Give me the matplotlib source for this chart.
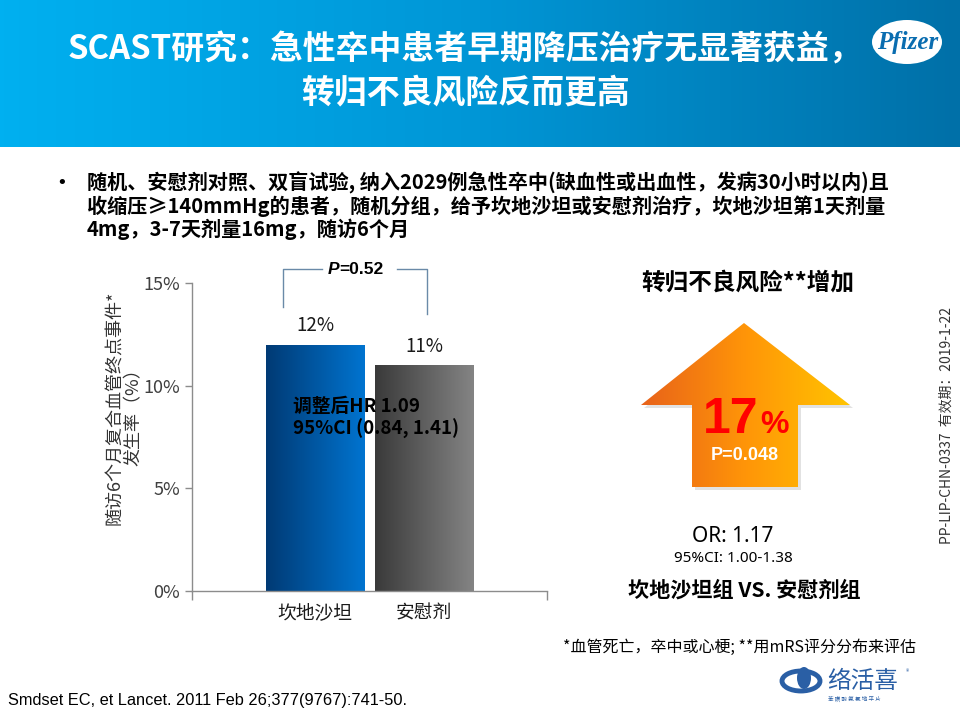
#!/usr/bin/env python3
"""SCAST slide: candesartan vs placebo, 6-month vascular endpoint + poor outcome risk."""

import numpy as np
import matplotlib
matplotlib.use('Agg')
import matplotlib.pyplot as plt
from matplotlib.patches import Polygon, Ellipse
from matplotlib.colors import LinearSegmentedColormap

plt.rcParams['font.family'] = ['Noto Sans CJK SC', 'DejaVu Sans']

# ---- data ----
GROUPS = ['坎地沙坦', '安慰剂']
EVENT_RATE = [12, 11]            # composite vascular endpoint at 6 months, %
Y_TICKS = [0, 5, 10, 15]
P_BARS = '0.52'
HR_LINES = ['调整后HR 1.09', '95%CI (0.84, 1.41)']
RISK_UP = 17                     # % increase of poor functional outcome
P_RISK = '0.048'
OR_VALUE = 1.17
OR_CI = (1.00, 1.38)

TITLE = ['SCAST研究：急性卒中患者早期降压治疗无显著获益，', '转归不良风险反而更高']
BULLET = ['随机、安慰剂对照、双盲试验, 纳入2029例急性卒中(缺血性或出血性，发病30小时以内)且',
          '收缩压≥140mmHg的患者，随机分组，给予坎地沙坦或安慰剂治疗，坎地沙坦第1天剂量',
          '4mg，3-7天剂量16mg，随访6个月']
FOOTNOTE = '*血管死亡，卒中或心梗; **用mRS评分分布来评估'
REFERENCE = 'Smdset EC, et Lancet. 2011 Feb 26;377(9767):741-50.'
CODE = 'PP-LIP-CHN-0337  有效期：2019-1-22'

W, H = 960, 720
fig = plt.figure(figsize=(W / 100, H / 100), dpi=100)

# ---- bar chart ----
ax = fig.add_axes([192 / W, 1 - 591 / H, (547 - 192) / W, 308 / H], zorder=0)
ax.set_facecolor('none')
x = np.arange(len(GROUPS))
bars = ax.bar(x, EVENT_RATE, width=0.9, color='none', zorder=2)
grads = [['#003a74', '#0074d0'], ['#3a3a3a', '#848484']]
grad = np.linspace(0, 1, 256).reshape(1, -1)
for b, cols in zip(bars, grads):
    cm = LinearSegmentedColormap.from_list('g', cols)
    im = ax.imshow(grad, cmap=cm, aspect='auto', zorder=2,
                   extent=[b.get_x(), b.get_x() + b.get_width(), 0, b.get_height()])
    im.set_clip_path(b)

for xi, v in zip(x, EVENT_RATE):
    ax.annotate(f'{v}%', (xi, v), xytext=(0, 13.5), textcoords='offset points',
                ha='center', va='center', fontsize=13.5, color='#1a1a1a')

xl = (-1.13, 2.13)
ax.set_xlim(*xl)
ax.set_ylim(0, 15)
for s in ['top', 'right']:
    ax.spines[s].set_visible(False)
for s in ['left', 'bottom']:
    ax.spines[s].set_color('#8c8c8c')
    ax.spines[s].set_linewidth(1)
ax.set_yticks(Y_TICKS)
ax.set_yticklabels([f'{t}%' for t in Y_TICKS])
ax.tick_params(axis='y', direction='out', length=5, width=1, color='#8c8c8c',
               labelsize=13, labelcolor='#404040', pad=3.5)
ax.set_xticks(x)
ax.set_xticklabels(GROUPS)
ax.tick_params(axis='x', length=0, labelsize=13.5, labelcolor='#1a1a1a', pad=8)
ax.set_xticks([xl[0] + 0.001, xl[1] - 0.001], minor=True)
ax.tick_params(axis='x', which='minor', direction='out', length=6.5, width=1,
               color='#8c8c8c')

# p-value bracket
top = max(EVENT_RATE)
bk_y = top + 3.68
bl, br = x[0] - 0.29, x[1] + 0.03
bc = '#6a8aa8'
kw = dict(color=bc, lw=1, clip_on=False)
ax.plot([bl, bl, 0.064], [top + 1.83, bk_y, bk_y], **kw)
ax.plot([0.75, br, br], [bk_y, bk_y, EVENT_RATE[1] + 2.49], **kw)
ax.text(0.22, bk_y, 'P', style='italic', weight='bold', ha='right', va='center',
        fontsize=12.5, family='Liberation Sans')
ax.text(0.22, bk_y, f'={P_BARS}', weight='bold', ha='left', va='center',
        fontsize=12.5, family='Liberation Sans')

# ---- overlay for slide decorations (pixel coords) ----
ov = fig.add_axes([0, 0, 1, 1], zorder=1)
ov.set_facecolor('none')
ov.axis('off')

head_cm = LinearSegmentedColormap.from_list('hd', ['#00b0f0', '#0096d6', '#0070a8'])
ov.imshow(grad, cmap=head_cm, aspect='auto', extent=[0, W, 147, 0], zorder=0)

ov.add_patch(Ellipse((907, 42), 70, 44, facecolor='white', edgecolor='none', zorder=1))
ov.text(908, 42, 'Pfizer', style='italic', weight='bold', family='Liberation Serif',
        fontsize=18, color='#0a6db0', ha='center', va='center', zorder=2)

ov.text(465, 50, TITLE[0], color='white', weight='bold', fontsize=23.7,
        ha='center', va='center')
ov.text(465, 93, TITLE[1], color='white', weight='bold', fontsize=23.7,
        ha='center', va='center')

ov.text(62, 183, '•', fontsize=13, ha='center', va='center', family='DejaVu Sans')
for i, line in enumerate(BULLET):
    ov.text(87, 183 + 23 * i, line, fontsize=14.5, weight='bold', ha='left', va='center')

# y label
ov.text(115, 408, '随访6个月复合血管终点事件*', rotation=90, fontsize=13,
        color='#333333', ha='center', va='center')
ov.text(134, 413, '发生率（%）', rotation=90, fontsize=13,
        color='#333333', ha='center', va='center')

ov.text(293, 406, HR_LINES[0], fontsize=13.5, weight='bold', ha='left', va='center', zorder=5)
ov.text(293, 429, HR_LINES[1], fontsize=13.5, weight='bold', ha='left', va='center', zorder=5)

# ---- arrow ----
ov.text(748, 283, '转归不良风险**增加', fontsize=17, weight='bold', ha='center', va='center')
arrow_xy = [(744, 323), (850, 405), (798, 405), (798, 487),
            (692, 487), (692, 405), (641, 405)]
shadow = Polygon([(px + 3, py + 3) for px, py in arrow_xy], closed=True,
                 facecolor='#a0a0a0', edgecolor='none', alpha=0.3, zorder=1)
ov.add_patch(shadow)
arrow = Polygon(arrow_xy, closed=True, facecolor='none', edgecolor='none', zorder=2)
ov.add_patch(arrow)
arr_cm = LinearSegmentedColormap.from_list('ar', ['#e8621a', '#ff9508', '#ffc400'])
im = ov.imshow(grad, cmap=arr_cm, aspect='auto', extent=[641, 850, 487, 323], zorder=2)
im.set_clip_path(arrow)

ov.text(759, 433, f'{RISK_UP}', fontsize=36, weight='bold', color='#ff0000',
        family='Liberation Sans', ha='right', va='baseline', zorder=3)
ov.text(760, 433, '%', fontsize=23, weight='bold', color='#ff0000',
        family='Liberation Sans', ha='left', va='baseline', zorder=3)
ov.text(745, 456, f'P={P_RISK}', fontsize=13, weight='bold', color='white',
        family='Liberation Sans', ha='center', va='center', zorder=3)

ov.text(733, 536, f'OR: {OR_VALUE:.2f}', fontsize=15, family='Noto Sans',
        ha='center', va='center')
ov.text(733, 559, f'95%CI: {OR_CI[0]:.2f}-{OR_CI[1]:.2f}', fontsize=11,
        family='Noto Sans', ha='center', va='center')
ov.text(744, 590, f'{GROUPS[0]}组 VS. {GROUPS[1]}组', fontsize=15.2, weight='bold',
        ha='center', va='center')

ov.text(947, 425, CODE, rotation=90, fontsize=10, color='#333333',
        ha='center', va='center')

# ---- footer ----
ov.text(916, 647, FOOTNOTE, fontsize=11.5, ha='right', va='center')
ov.text(8, 700, REFERENCE, fontsize=11.8, family='Liberation Sans',
        ha='left', va='center')

logo = '#2a5fa5'
ov.add_patch(Ellipse((801, 681), 38, 20, facecolor='white', edgecolor=logo, lw=3.5))
ov.add_patch(Ellipse((804, 678), 14, 22, facecolor=logo, edgecolor='none'))
ov.text(827, 681, '络活喜', fontsize=17, color=logo, ha='left', va='center')
ov.text(906, 672, '®', fontsize=5, color=logo, ha='left', va='center')
ov.text(828, 699, '苯 磺 酸 氨 氯 地 平 片', fontsize=4, color=logo, ha='left', va='center')

ov.set_xlim(0, W)
ov.set_ylim(H, 0)

fig.savefig('out.png', dpi=100)
